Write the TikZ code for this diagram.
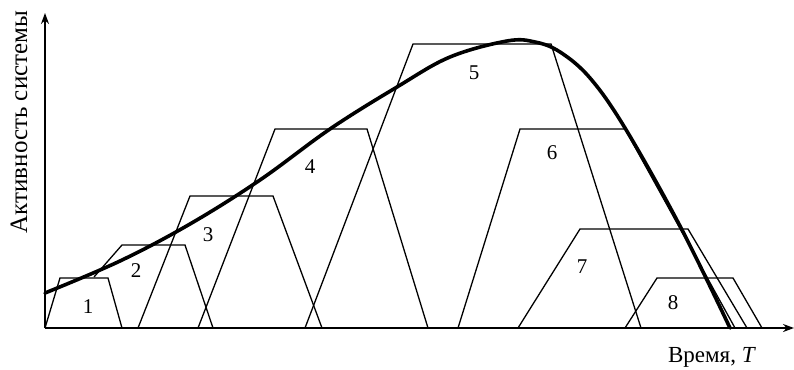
\documentclass[tikz,border=0pt]{standalone}
\usepackage{fontspec}
\setmainfont{Liberation Serif}
\usetikzlibrary{arrows.meta}
\begin{document}
\begin{tikzpicture}[x=1pt,y=-1pt,
  thin line/.style={line width=1.3pt,line join=miter},
  axis/.style={line width=1.8pt,-{Stealth[length=11pt,width=8pt]}},
  curve/.style={line width=3.6pt,line cap=round},
  num/.style={font=\fontsize{21}{24}\selectfont},
  xlbl/.style={font=\fontsize{23}{26}\selectfont},
  ylbl/.style={font=\fontsize{25}{28}\selectfont}]
\useasboundingbox (0,0) rectangle (794,369);
\coordinate (O) at (45,328);
\coordinate (Ytip) at (45,13);
\coordinate (Xtip) at (794,328);
% trapezoids
\draw[thin line] (45,328) -- (60,278) -- (108,278) -- (122,328);
\draw[thin line] (94,277) -- (122,245) -- (185,245) -- (213,328);
\draw[thin line] (138,328) -- (190,196) -- (273,196) -- (322,328);
\draw[thin line] (198,328) -- (275,129) -- (367,129) -- (428,328);
\draw[thin line] (305,328) -- (413,44) -- (551,44) -- (641,328);
\draw[thin line] (458,328) -- (520,129) -- (625,129) -- (735,328);
\draw[thin line] (518,328) -- (580,229) -- (688,229) -- (747,328);
\draw[thin line] (625,328) -- (657,278) -- (733,278) -- (762,328);
% curve
\draw[curve] plot[smooth,tension=0.6] coordinates {(45,293) (120,261) (190,224) (260,180) (330,129) (397,87) (450,57) (507,41) (535,42) (560,52) (590,78) (625,128) (680,226) (730,328)};
% axes
\draw[axis] (O) -- (Ytip);
\draw[axis] (O) -- (Xtip);
% labels
\node[num] (n1) at (88,307) {1};
\node[num] (n2) at (136,271) {2};
\node[num] (n3) at (208,235) {3};
\node[num] (n4) at (310,167) {4};
\node[num] (n5) at (474,73) {5};
\node[num] (n6) at (552,153) {6};
\node[num] (n7) at (582,267) {7};
\node[num] (n8) at (673,303) {8};
\node[ylbl,rotate=90] (ylab) at (19,122) {Активность системы};
\node[xlbl] (xlab) at (712,357) {Время, \textit{T}};
\end{tikzpicture}
\end{document}
